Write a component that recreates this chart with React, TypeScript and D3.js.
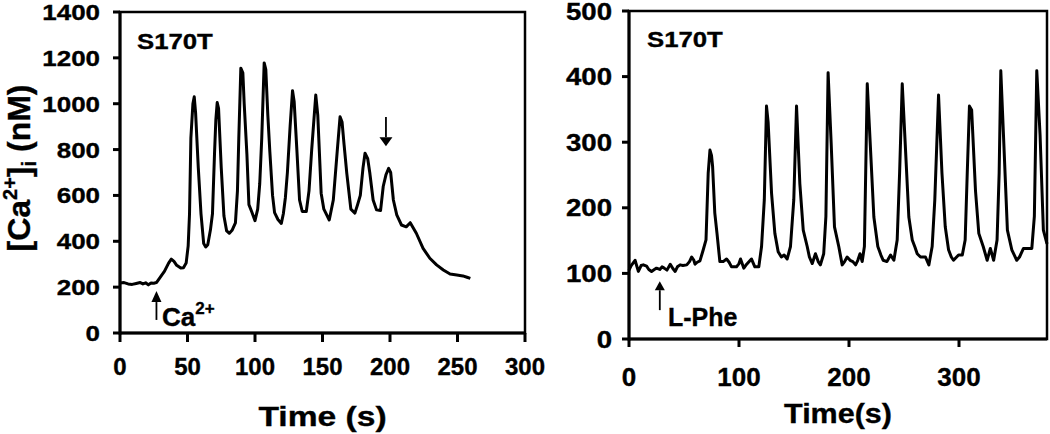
import React from "react";
import * as d3 from "d3";

const FONT = "'Liberation Sans', Arial, Helvetica, sans-serif";

// Left panel: Ca2+ addition (time s, [Ca2+]i nM)
const leftTime = [0,3,6,9,12,15,17,19,21,23,25,27,30,33,36,38,40,42,45,47,49,50.5,51.5,52.5,54,55,56,58,60,62,63.5,65,67,68.5,70,71,72,73,75,77,79,81,83,85.5,87,88,89.5,91,92,94,95.5,97.5,100,102,103.5,105,106.8,108,109.5,111,113,114.5,117,119.5,121,122.5,124,126,127.8,129,131,133,135,138,140,142,145,146.5,149,151,155,158,161,163,164.5,166,168,171,174,176,178,180,181.5,183.5,185,187.5,190,193,195,197,199,200.5,202.5,205,208.5,212,215,219.5,224.5,229.5,234.5,239.5,244.5,249.5,254,257,259.5];
const leftCa = [218,220,214,212,216,220,214,219,210,218,217,220,245,270,305,322,312,295,283,285,305,380,520,850,1000,1030,960,720,520,390,375,385,450,520,780,930,1005,980,720,510,445,435,448,480,620,850,1155,1135,1000,780,560,530,490,540,650,850,1178,1150,950,790,600,525,495,478,520,590,700,900,1057,1010,800,580,530,530,620,800,1038,950,610,540,493,580,800,943,920,820,696,540,523,560,600,720,784,760,700,580,537,534,640,690,718,700,580,515,471,463,481,435,369,326,297,275,257,253,249,243,238];

// Right panel: L-Phe addition
const rightTime = [0,2,5.5,8.5,11,13,16,18,20.5,23,25,28,30,32,34.5,37.5,40,42,44,46.5,49,52.5,55,57,59,60,62,64.5,67.5,70,72,73.6,75,76,78,80,82.6,85.6,88.7,91,93.2,97.7,100,101.4,104.4,107,111.3,114.4,118,120.5,123,125,126.5,129.6,132.6,135.6,138.5,141,143.8,146.8,149.8,152.3,155.3,158.4,162,164,166.6,169.5,172,174,177,179,181,183.8,186.8,190.7,193.8,196,198.3,201,203.5,206,208,210,212,214,216.6,219.6,222.6,226.2,229,231.1,234.5,237.8,240.8,243.8,246,248.4,251.4,254.4,257.5,260,262,265,269.5,272.6,275.6,278,281.4,284.5,287.5,290.5,293,295,299.6,303,305.6,307.5,309.5,311.5,315,318,322,325.6,328.5,331.5,334.6,336.5,338,341,344,348,352.5,355,358.6,363,366.2,368.5,370.7,373.7,376.7,380];
const rightCa = [105,112,120,103,112,113,111,106,103,106,108,106,110,108,105,114,107,103,110,113,112,113,118,125,120,114,117,119,136,151,253,288,280,263,192,161,118,118,122,117,110,110,115,122,108,114,122,110,110,141,212,355,330,222,161,133,125,128,122,141,212,355,237,166,141,125,115,130,118,113,130,187,406,298,171,141,113,118,125,120,118,113,120,130,118,141,389,288,186,141,128,120,118,128,120,151,253,389,288,186,151,140,130,125,125,113,141,212,372,253,171,136,125,120,128,128,151,253,355,349,226,161,141,120,138,120,151,253,409,288,166,136,120,125,138,138,138,187,409,311,166,145];

const leftXTicks = [0, 50, 100, 150, 200, 250, 300];
const leftYTicks = [0, 200, 400, 600, 800, 1000, 1200, 1400];
const rightXTicks = [0, 100, 200, 300];
const rightYTicks = [0, 100, 200, 300, 400, 500];

// annotation arrows (data units): [time, fromValue, toValue]
const leftUpArrow = [27, 57, 183];
const leftDownArrow = [197, 942, 815];
const rightUpArrow = [28, 44, 88];

function Txt({ x, y, size, sx = 1, anchor = "start", children, rotate = 0 }: any) {
  return (
    <text
      transform={`translate(${x},${y}) rotate(${rotate}) scale(${sx},1)`}
      fontSize={size}
      fontWeight="bold"
      fontFamily={FONT}
      textAnchor={anchor}
      fill="#000"
      stroke="#000"
      strokeWidth={0.35}
    >
      {children}
    </text>
  );
}

function Arrow({ x, y1, y2, hw, hh }: any) {
  const dir = y2 < y1 ? 1 : -1; // 1 = up
  const base = y2 + dir * hh;
  return (
    <g>
      <line x1={x} x2={x} y1={y1} y2={base} stroke="#000" strokeWidth={1.8} />
      <path d={`M${x},${y2} L${x - hw / 2},${base} L${x + hw / 2},${base} Z`} fill="#000" />
    </g>
  );
}

export default function App() {
  const lx = d3.scaleLinear().domain([0, 300]).range([120, 525]);
  const ly = d3.scaleLinear().domain([0, 1400]).range([333, 12]);
  const rx = d3.scaleLinear().domain([0, 380]).range([629, 1047]);
  const ry = d3.scaleLinear().domain([0, 500]).range([339, 11]);

  const leftLine = d3
    .line<number>()
    .x((_, i) => lx(leftTime[i]))
    .y((d) => ly(d))(leftCa);
  const rightLine = d3
    .line<number>()
    .x((_, i) => rx(rightTime[i]))
    .y((d) => ry(d))(rightCa);

  const sw = 3;

  return (
    <div style={{ position: "absolute", left: 0, top: 0 }}>
      <svg width={1050} height={434} style={{ display: "block", background: "#fff" }}>
        {/* LEFT PANEL */}
        <g>
          <rect x={lx(0)} y={ly(1400)} width={lx(300) - lx(0)} height={ly(0) - ly(1400)} fill="none" stroke="#000" strokeWidth={2.5} />
          <line x1={lx(0)} x2={lx(300)} y1={ly(0)} y2={ly(0)} stroke="#000" strokeWidth={sw} />
          <line x1={lx(0)} x2={lx(0)} y1={ly(0) + 1.5} y2={ly(1400)} stroke="#000" strokeWidth={sw} />
          {leftXTicks.map((t) => (
            <g key={"lxt" + t}>
              <line x1={lx(t)} x2={lx(t)} y1={ly(0)} y2={ly(0) + 9} stroke="#000" strokeWidth={sw} />
              <Txt x={lx(t)} y={ly(0) + 42} size={24} anchor="middle">{t}</Txt>
            </g>
          ))}
          {leftYTicks.map((v) => (
            <g key={"lyt" + v}>
              <line x1={lx(0) - 7} x2={lx(0)} y1={ly(v)} y2={ly(v)} stroke="#000" strokeWidth={sw} />
              <Txt x={100} y={ly(v) + 8} size={22} sx={1.18} anchor="end">{v}</Txt>
            </g>
          ))}
          <path d={leftLine || ""} fill="none" stroke="#000" strokeWidth={3} strokeLinejoin="round" />
          <Txt x={137} y={49} size={22} sx={1.17}>S170T</Txt>
          <Arrow x={lx(leftUpArrow[0])} y1={ly(leftUpArrow[1])} y2={ly(leftUpArrow[2])} hw={10} hh={11} />
          <text x={162} y={326} fontSize={26} fontWeight="bold" fontFamily={FONT} stroke="#000" strokeWidth={0.35}>
            Ca<tspan fontSize={17} dy={-12}>2+</tspan>
          </text>
          <Arrow x={lx(leftDownArrow[0])} y1={ly(leftDownArrow[1])} y2={ly(leftDownArrow[2])} hw={13} hh={9} />
          <Txt x={322.5} y={426} size={28} sx={1.2} anchor="middle">Time (s)</Txt>
          <text transform="translate(30,168) rotate(-90)" fontSize={32} fontWeight="bold" fontFamily={FONT} textAnchor="middle" stroke="#000" strokeWidth={0.35}>
            [Ca<tspan fontSize={20} dy={-13}>2+</tspan><tspan dy={13}>]</tspan><tspan fontSize={20} dy={6}>i</tspan><tspan dy={-6}> (nM)</tspan>
          </text>
        </g>

        {/* RIGHT PANEL */}
        <g>
          <rect x={rx(0)} y={ry(500)} width={rx(380) - rx(0)} height={ry(0) - ry(500)} fill="none" stroke="#000" strokeWidth={2.5} />
          <line x1={rx(0)} x2={rx(380)} y1={ry(0)} y2={ry(0)} stroke="#000" strokeWidth={sw} />
          <line x1={rx(0)} x2={rx(0)} y1={ry(0) + 1.5} y2={ry(500)} stroke="#000" strokeWidth={sw} />
          {rightXTicks.map((t) => (
            <g key={"rxt" + t}>
              <line x1={rx(t)} x2={rx(t)} y1={ry(0)} y2={ry(0) + 8} stroke="#000" strokeWidth={sw} />
              <Txt x={rx(t)} y={ry(0) + 47} size={26} anchor="middle">{t}</Txt>
            </g>
          ))}
          {rightYTicks.map((v) => (
            <g key={"ryt" + v}>
              <line x1={rx(0) - 7} x2={rx(0)} y1={ry(v)} y2={ry(v)} stroke="#000" strokeWidth={sw} />
              <Txt x={612} y={ry(v) + 8.5} size={23} sx={1.2} anchor="end">{v}</Txt>
            </g>
          ))}
          <path d={rightLine || ""} fill="none" stroke="#000" strokeWidth={3} strokeLinejoin="round" />
          <Txt x={647} y={47} size={22} sx={1.17}>S170T</Txt>
          <Arrow x={rx(rightUpArrow[0])} y1={ry(rightUpArrow[1])} y2={ry(rightUpArrow[2])} hw={10} hh={9} />
          <Txt x={668} y={326} size={25}>L-Phe</Txt>
          <Txt x={838} y={423} size={28} sx={1.09} anchor="middle">Time(s)</Txt>
        </g>
      </svg>
    </div>
  );
}
